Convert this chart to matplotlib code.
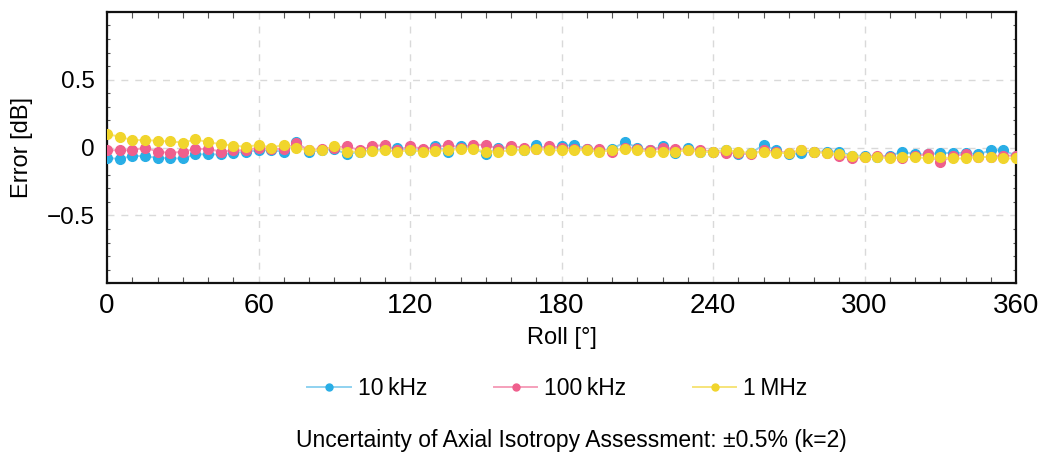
import numpy as np
import matplotlib
matplotlib.use("Agg")
import matplotlib.pyplot as plt
from matplotlib.ticker import MultipleLocator

# ── data ──
roll = np.arange(0, 361, 5)

err_10k = [
    -0.075, -0.085, -0.06, -0.065, -0.075, -0.08, -0.08, -0.05, -0.05, -0.05, -0.04, -0.03,
    -0.02, -0.02, -0.03, 0.04, -0.03, -0.02, -0.01, -0.05, -0.03, -0.02, -0.01, 0.0,
    -0.02, -0.02, 0.01, -0.03, 0.01, 0.0, -0.05, 0.0, -0.01, -0.02, 0.02, -0.01,
    0.01, 0.02, -0.01, -0.02, -0.01, 0.04, 0.0, -0.02, 0.01, -0.04, 0.0, -0.03,
    -0.03, -0.02, -0.05, -0.04, 0.02, -0.02, -0.05, -0.04, -0.03, -0.03, -0.03, -0.06,
    -0.06, -0.07, -0.06, -0.03, -0.05, -0.05, -0.04, -0.04, -0.04, -0.05, -0.02, -0.02,
    -0.06,
]
err_100k = [
    -0.02, -0.02, -0.02, 0.0, -0.03, -0.04, -0.03, -0.01, -0.01, -0.03, -0.02, -0.02,
    0.0, -0.01, -0.01, 0.03, -0.02, -0.01, 0.0, 0.01, -0.02, 0.01, 0.02, -0.02,
    0.01, -0.01, 0.0, 0.02, 0.0, 0.02, 0.02, -0.01, 0.01, 0.0, -0.01, 0.01,
    0.0, -0.01, -0.01, -0.01, -0.03, 0.0, -0.01, -0.02, 0.0, -0.01, -0.02, -0.02,
    -0.03, -0.04, -0.04, -0.05, -0.02, -0.03, -0.04, -0.02, -0.03, -0.04, -0.06, -0.08,
    -0.07, -0.06, -0.07, -0.08, -0.06, -0.05, -0.11, -0.06, -0.05, -0.07, -0.07, -0.06,
    -0.06,
]
err_1m = [
    0.10, 0.08, 0.055, 0.055, 0.05, 0.045, 0.037, 0.06, 0.04, 0.025, 0.015, 0.005,
    0.02, 0.0, 0.02, -0.005, -0.02, -0.02, 0.01, -0.03, -0.03, -0.025, -0.02, -0.03,
    -0.02, -0.03, -0.025, -0.02, -0.01, -0.01, -0.03, -0.03, -0.02, -0.02, -0.01, -0.02,
    -0.02, -0.02, -0.02, -0.03, -0.02, -0.01, -0.02, -0.03, -0.03, -0.03, -0.02, -0.03,
    -0.03, -0.02, -0.03, -0.04, -0.03, -0.04, -0.04, -0.02, -0.03, -0.04, -0.05, -0.06,
    -0.07, -0.07, -0.08, -0.07, -0.07, -0.08, -0.07, -0.08, -0.08, -0.07, -0.07, -0.08,
    -0.08,
]

SERIES = [
    ("10\u2009kHz", err_10k, "#29aee6", "#8fd2f0"),
    ("100\u2009kHz", err_100k, "#ef5f8d", "#f5a0bb"),
    ("1\u2009MHz", err_1m, "#f1d52c", "#f6e47a"),
]

plt.rcParams["font.family"] = ["Liberation Sans", "DejaVu Sans"]

fig = plt.figure(figsize=(10.4, 4.59), dpi=100)
ax = fig.add_axes([0.103, 0.383, 0.874, 0.591])

for label, vals, col, lcol in SERIES:
    ax.plot(roll, vals, color=lcol, linewidth=1.4, zorder=2)
    ax.plot(roll, vals, linestyle="None", marker="o", markersize=7,
            markerfacecolor=col, markeredgecolor=col, zorder=3)

ax.set_xlim(0, 360)
ax.set_ylim(-1.0, 1.0)
ax.xaxis.set_major_locator(MultipleLocator(60))
ax.xaxis.set_minor_locator(MultipleLocator(10))
ax.yaxis.set_major_locator(MultipleLocator(0.5))
ax.yaxis.set_minor_locator(MultipleLocator(0.1))
ax.set_yticks([-0.5, 0, 0.5])
ax.set_yticklabels(["\u22120.5", "0", "0.5"])

ax.tick_params(which="major", length=0)
ax.tick_params(axis="x", which="major", labelsize=20, pad=7)
ax.tick_params(axis="y", which="major", labelsize=17.5, pad=9)
ax.tick_params(which="minor", direction="in", top=True, right=True,
               length=4, width=0.8, color="#555555")
ax.tick_params(axis="y", which="minor", length=2.5)

ax.grid(True, which="major", linestyle=(0, (5, 5)), color="#d9d9d9", linewidth=1.0)
ax.set_axisbelow(True)
for sp in ax.spines.values():
    sp.set_linewidth(1.6)
    sp.set_color("#111111")

ax.set_xlabel("Roll [°]", fontsize=17, labelpad=6)
ax.set_ylabel("Error [dB]", fontsize=17, labelpad=10)

handles = [
    plt.Line2D([0], [0], color=lcol, linewidth=1.4, marker="o", markersize=5,
               markerfacecolor=col, markeredgecolor=col, label=label)
    for label, _, col, lcol in SERIES
]
fig.legend(handles=handles, loc="center", ncol=3, frameon=False, fontsize=16.5,
           bbox_to_anchor=(0.536, 0.153), columnspacing=2.9, handlelength=1.9,
           handletextpad=0.3)

fig.text(0.549, 0.04, "Uncertainty of Axial Isotropy Assessment: \u00b10.5% (k=2)",
         ha="center", va="center", fontsize=16.5)

fig.savefig("out.png", dpi=100, facecolor="white")
